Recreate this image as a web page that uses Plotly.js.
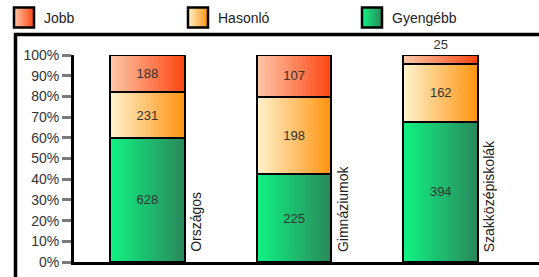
<!DOCTYPE html>
<html>
<head>
<meta charset="utf-8">
<script src="https://cdn.plot.ly/plotly-3.0.1.min.js"></script>
<style>
  html, body { margin: 0; padding: 0; background: #ffffff; }
  #chart { width: 539px; height: 277px; }
</style>
</head>
<body>
<div id="chart"></div>
<script>
// ---- data ----
const categories = ['Országos', 'Gimnáziumok', 'Szakközépiskolák'];
const gyengebb = [628, 225, 394];
const hasonlo = [231, 198, 162];
const jobb = [188, 107, 25];
const seriesNames = ['Gyengébb', 'Hasonló', 'Jobb'];
const yTickVals = [0, 10, 20, 30, 40, 50, 60, 70, 80, 90, 100];
const yTickText = ['0%', '10%', '20%', '30%', '40%', '50%', '60%', '70%', '80%', '90%', '100%'];

// ---- styles ----
const FONT = 'Arial, "Liberation Sans", sans-serif';
const gradients = {
  'Jobb': ['#fcc8aa', '#fd4510'],
  'Hasonló': ['#fff3cf', '#ff930e'],
  'Gyengébb': ['#10f384', '#2a875a']
};
const solid = { 'Jobb': '#fb8a5e', 'Hasonló': '#ffc46a', 'Gyengébb': '#1dbd70' };

function barTrace(name, vals, pos) {
  return {
    type: 'bar', name: name, x: categories, y: vals,
    text: vals.map(String), texttemplate: '%{text}',
    textposition: pos, insidetextanchor: 'middle', constraintext: 'none',
    textfont: { family: FONT, size: 13, color: '#333333' },
    outsidetextfont: { family: FONT, size: 13, color: '#333333' },
    insidetextfont: { family: FONT, size: 13, color: '#333333' },
    marker: { color: solid[name], line: { color: '#000000', width: 2 } },
    width: 0.51, cliponaxis: false, hoverinfo: 'skip'
  };
}

const data = [
  barTrace(seriesNames[0], gyengebb, 'inside'),
  barTrace(seriesNames[1], hasonlo, 'inside'),
  barTrace(seriesNames[2], jobb, 'auto')
];

const L = 74, T = 55, W = 539 - L, H = 207;
const px2x = p => (p - L) / W;
const px2y = p => 1 - (p - T) / H;

const layout = {
  width: 539, height: 277,
  margin: { l: L, r: 0, t: T, b: 15, pad: 0, autoexpand: false },
  paper_bgcolor: '#ffffff', plot_bgcolor: '#ffffff',
  barmode: 'stack', barnorm: 'percent',
  font: { family: FONT, size: 14, color: '#222222' },
  showlegend: true,
  legend: {
    orientation: 'h', traceorder: 'reversed',
    x: px2x(4), xanchor: 'left', y: px2y(18), yanchor: 'middle',
    entrywidth: 129, entrywidthmode: 'pixels',
    font: { family: FONT, size: 14, color: '#222222' },
    bgcolor: 'rgba(0,0,0,0)', borderwidth: 0
  },
  xaxis: {
    range: [-0.5, (539 - L) / 146.7 - 0.5],
    showline: true, linewidth: 3, linecolor: '#000000',
    showticklabels: false, ticks: '', showgrid: false, zeroline: false, fixedrange: true
  },
  yaxis: {
    range: [0, 100], tickvals: yTickVals, ticktext: yTickText,
    ticks: 'outside', ticklen: 9, tickwidth: 3, tickcolor: '#7a7a7a',
    showline: true, linewidth: 3, linecolor: '#000000',
    showgrid: false, zeroline: false, fixedrange: true,
    tickfont: { family: FONT, size: 14, color: '#333333' }
  },
  shapes: [{
    type: 'rect', xref: 'paper', yref: 'paper',
    x0: px2x(15.5), x1: 1.3, y0: px2y(34.5), y1: -0.4,
    line: { color: '#000000', width: 3.5 }, fillcolor: 'rgba(0,0,0,0)', layer: 'below'
  }],
  annotations: categories.map(c => ({
    text: c, x: c, y: 0, xref: 'x', yref: 'y', showarrow: false,
    textangle: -90, xanchor: 'center', yanchor: 'bottom',
    xshift: 48.5, yshift: 8,
    font: { family: FONT, size: 14, color: '#222222' }
  }))
};

const gd = document.getElementById('chart');
Plotly.newPlot(gd, data, layout, { displayModeBar: false, staticPlot: true }).then(() => {
  const ns = 'http://www.w3.org/2000/svg';
  const svg = gd.querySelector('svg.main-svg');
  let defs = svg.querySelector('defs');
  if (!defs) { defs = document.createElementNS(ns, 'defs'); svg.insertBefore(defs, svg.firstChild); }
  const ids = {};
  Object.keys(gradients).forEach((k, i) => {
    const id = 'grad' + i;
    ids[k] = id;
    const lg = document.createElementNS(ns, 'linearGradient');
    lg.setAttribute('id', id);
    lg.setAttribute('x1', '0'); lg.setAttribute('y1', '0');
    lg.setAttribute('x2', '1'); lg.setAttribute('y2', '0');
    [[0, gradients[k][0]], [1, gradients[k][1]]].forEach(([o, c]) => {
      const s = document.createElementNS(ns, 'stop');
      s.setAttribute('offset', String(o));
      s.setAttribute('stop-color', c);
      lg.appendChild(s);
    });
    defs.appendChild(lg);
  });
  gd.querySelectorAll('.barlayer .trace').forEach((tr, i) => {
    let name = seriesNames[i];
    try { name = tr.__data__[0].trace.name; } catch (e) {}
    tr.querySelectorAll('.point path').forEach(p => { p.style.fill = 'url(#' + ids[name] + ')'; });
  });
  gd.querySelectorAll('.legend .traces').forEach(item => {
    const t = item.querySelector('.legendtext');
    const name = t ? t.textContent : null;
    if (!name || !ids[name]) return;
    item.querySelectorAll('.legendpoints path').forEach(p => {
      p.setAttribute('d', 'M10,10H-10V-10H10Z');
      p.style.fill = 'url(#' + ids[name] + ')';
      p.style.stroke = '#000000';
      p.style.strokeWidth = '2.5px';
    });
  });
});
</script>
</body>
</html>
